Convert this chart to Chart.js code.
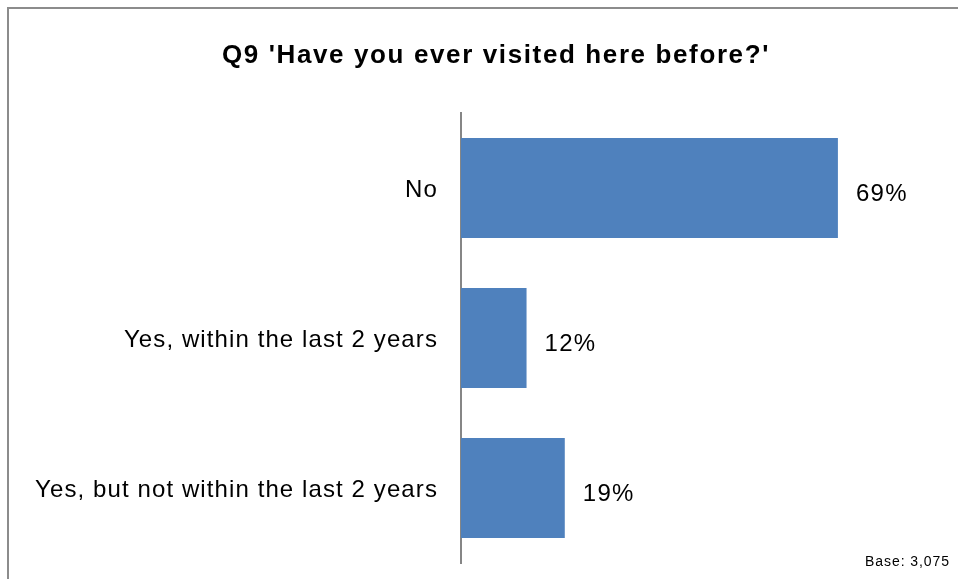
<!DOCTYPE html>
<html>
<head>
<meta charset="utf-8">
<script src="https://cdn.jsdelivr.net/npm/chart.js@4"></script>
<style>
  html, body { margin: 0; padding: 0; background: #fff; }
  canvas { display: block; }
</style>
</head>
<body>
<canvas id="visitChart" width="958" height="579"></canvas>
<script>
// DATA //
var answers = ["No", "Yes, within the last 2 years", "Yes, but not within the last 2 years"];
var shares = [69, 12, 19];
var chartTitle = "Q9 'Have you ever visited here before?'";
var baseNote = "Base: 3,075";

var fontFamily = "'Liberation Sans', Arial, sans-serif";

// fill text stretched to a given width with letter spacing
function spacedText(ctx, text, x, y, width) {
    ctx.letterSpacing = "0px";
    var w = ctx.measureText(text).width;
    ctx.letterSpacing = ((width - w) / text.length) + "px";
    ctx.fillText(text, x, y);
    ctx.letterSpacing = "0px";
}

// frame, title, base note and value labels drawn straight on the canvas
var decorPlugin = {
    id: "decor",
    beforeDraw: function(chart) {
        var ctx = chart.ctx;
        ctx.save();
        ctx.strokeStyle = "#8c8c8c";
        ctx.lineWidth = 2;
        ctx.beginPath();
        ctx.moveTo(8, 579);
        ctx.lineTo(8, 8);
        ctx.lineTo(958, 8);
        ctx.stroke();

        ctx.fillStyle = "#000";
        ctx.font = "bold 26px " + fontFamily;
        ctx.textAlign = "left";
        ctx.textBaseline = "alphabetic";
        spacedText(ctx, chartTitle, 222, 63, 548);

        ctx.font = "14px " + fontFamily;
        spacedText(ctx, baseNote, 865, 566, 85);
        ctx.restore();
        // wider spacing for the category labels drawn next
        ctx.letterSpacing = "1.1px";
    },
    afterDatasetsDraw: function(chart) {
        var ctx = chart.ctx;
        var meta = chart.getDatasetMeta(0);
        ctx.save();
        ctx.fillStyle = "#000";
        ctx.font = "24px " + fontFamily;
        ctx.textAlign = "left";
        ctx.textBaseline = "alphabetic";
        ctx.letterSpacing = "1.3px";
        meta.data.forEach(function(bar, i) {
            ctx.fillText(shares[i] + "%", bar.x + 18, bar.y + 13);
        });
        ctx.restore();
    },
    afterDraw: function(chart) {
        chart.ctx.letterSpacing = "0px";
    }
};

var ctx = document.getElementById("visitChart");
var visitChart = new Chart(ctx, {
    type: "bar",
    data: {
        labels: answers,
        datasets: [{
            data: shares,
            backgroundColor: "#4f81bd",
            borderWidth: 0,
            categoryPercentage: 1,
            barPercentage: 0.667
        }]
    },
    options: {
        indexAxis: "y",
        responsive: false,
        animation: false,
        layout: {
            padding: { top: 113, bottom: 16, left: 0, right: 60 }
        },
        plugins: {
            legend: { display: false },
            tooltip: { enabled: false }
        },
        scales: {
            x: {
                display: false,
                min: 0,
                max: 80
            },
            y: {
                grid: { display: false, drawTicks: false },
                border: { display: true, color: "#868686", width: 2 },
                afterFit: function(scale) {
                    scale.width = 461;
                    scale.paddingTop = 0;
                    scale.paddingBottom = 0;
                },
                ticks: {
                    color: "#000",
                    padding: 23,
                    labelOffset: 2,
                    font: { family: fontFamily, size: 24 }
                }
            }
        }
    },
    plugins: [decorPlugin]
});
</script>
</body>
</html>
